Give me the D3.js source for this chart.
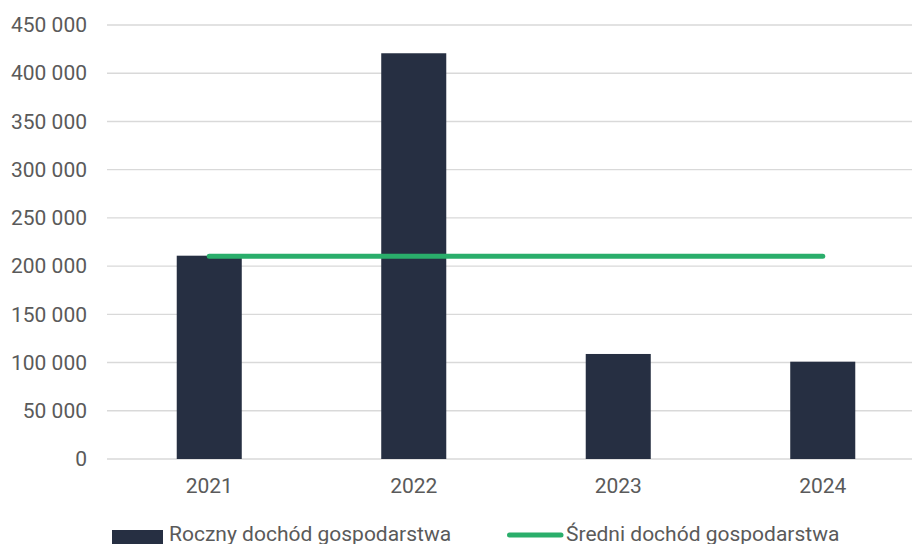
<!DOCTYPE html>
<html>
<head>
<meta charset="utf-8">
<script src="https://cdn.jsdelivr.net/npm/d3@7"></script>
<style>
  html, body { margin: 0; padding: 0; background: #ffffff; }
  svg { display: block; }
  text { font-family: Roboto, "Noto Sans", sans-serif; }
</style>
</head>
<body>
<svg id="chart" width="912" height="544"></svg>
<script>
const categories = ["2021", "2022", "2023", "2024"];
const annualIncome = [210800, 420700, 108900, 100900];
const averageIncome = [210300, 210300, 210300, 210300];
const yTicks = [0, 50000, 100000, 150000, 200000, 250000, 300000, 350000, 400000, 450000];
const seriesNames = ["Roczny dochód gospodarstwa", "Średni dochód gospodarstwa"];

const W = 912, H = 544;
const svg = d3.select("#chart");
const barColor = "#262f42";
const lineColor = "#2aae6b";
const textColor = "#5a5a5a";
const gridColor = "#d9d9d9";
const fontSize = 21;

const x = d3.scaleBand().domain(categories).range([107, 925]).paddingInner(0.682).paddingOuter(0.341);
const y = d3.scaleLinear().domain([0, 450000]).range([459, 25]);

const fmt = v => d3.format(",")(v).replace(/,/g, "\u00a0");

// gridlines
svg.append("g").selectAll("line").data(yTicks).join("line")
  .attr("x1", 107).attr("x2", W)
  .attr("y1", d => y(d)).attr("y2", d => y(d))
  .attr("stroke", gridColor).attr("stroke-width", 1.4);

// y axis labels
const yAxis = d3.axisLeft(y).tickValues(yTicks).tickFormat(fmt).tickSize(0).tickPadding(0);
const gy = svg.append("g").attr("transform", "translate(87,0)").call(yAxis);
gy.select(".domain").remove();
gy.selectAll("text").attr("font-size", fontSize).attr("fill", textColor)
  .attr("font-family", "Roboto, sans-serif");

// x axis labels
const xAxis = d3.axisBottom(x).tickSize(0).tickPadding(0);
const gx = svg.append("g").attr("transform", "translate(0,459)").call(xAxis);
gx.select(".domain").remove();
gx.selectAll("text").attr("font-size", fontSize).attr("fill", textColor)
  .attr("font-family", "Roboto, sans-serif").attr("dy", null).attr("y", 34);

// bars
svg.append("g").selectAll("rect").data(categories).join("rect")
  .attr("x", d => x(d)).attr("width", x.bandwidth())
  .attr("y", (d, i) => y(annualIncome[i]))
  .attr("height", (d, i) => y(0) - y(annualIncome[i]))
  .attr("fill", barColor);

// average line
const line = d3.line().x((d, i) => x(categories[i]) + x.bandwidth() / 2).y(d => y(d));
svg.append("path").datum(averageIncome).attr("d", line)
  .attr("fill", "none").attr("stroke", lineColor).attr("stroke-width", 5)
  .attr("stroke-linecap", "round");

// legend
const lg = svg.append("g");
lg.append("rect").attr("x", 112).attr("y", 530).attr("width", 51).attr("height", 16).attr("fill", barColor);
lg.append("text").attr("x", 169).attr("y", 541).attr("font-size", fontSize).attr("fill", textColor).text(seriesNames[0]);
lg.append("line").attr("x1", 509.5).attr("x2", 561).attr("y1", 535).attr("y2", 535)
  .attr("stroke", lineColor).attr("stroke-width", 5).attr("stroke-linecap", "round");
lg.append("text").attr("x", 566).attr("y", 541).attr("font-size", fontSize).attr("fill", textColor).text(seriesNames[1]);
</script>
</body>
</html>
